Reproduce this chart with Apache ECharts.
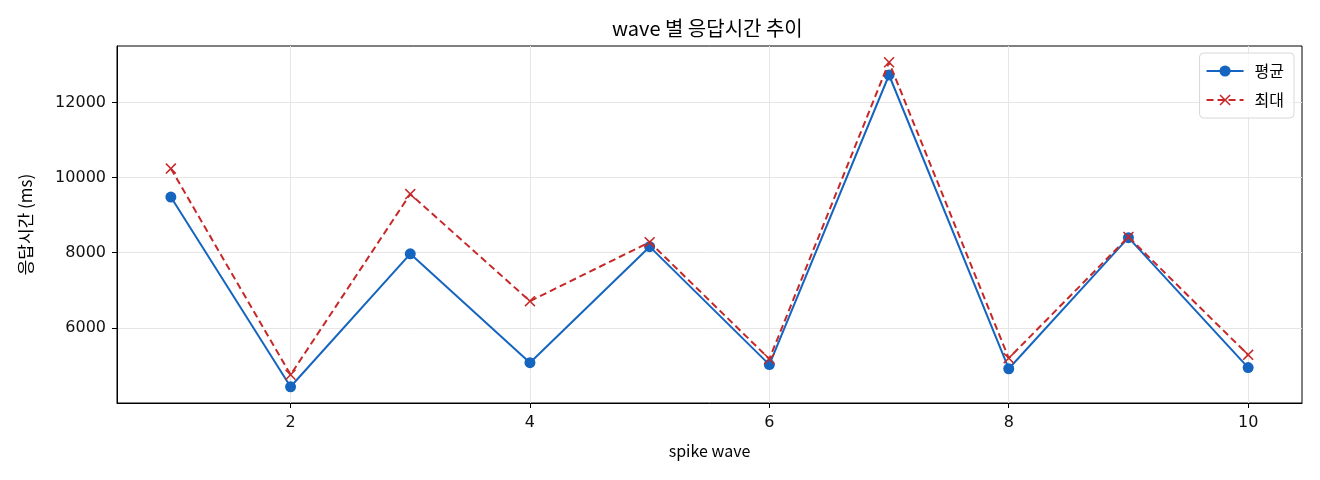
<!DOCTYPE html>
<html>
<head>
<meta charset="utf-8">
<script src="https://cdn.jsdelivr.net/npm/echarts@6/dist/echarts.min.js"></script>
<style>
  html, body { margin: 0; padding: 0; background: #fff; }
  #charts { width: 1320px; height: 480px; }
</style>
</head>
<body>
<div id="charts"></div>
<script>
// data
var waves = [1, 2, 3, 4, 5, 6, 7, 8, 9, 10];
var avgMs = [9480, 4430, 7970, 5070, 8160, 5020, 12730, 4910, 8400, 4940];
var maxMs = [10240, 4750, 9560, 6710, 8280, 5170, 13070, 5190, 8420, 5280];
var xTicks = [2, 4, 6, 8, 10];
var yTicks = [6000, 8000, 10000, 12000];

var KR = '"Noto Sans CJK KR", "Noto Sans", sans-serif';
var BLUE = '#1565c0';
var RED = '#c62828';
// x marker as filled polygon
var xMark = 'path://M0,1L1,0L5,4L9,0L10,1L6,5L10,9L9,10L5,6L1,10L0,9L4,5Z';

function pairs(vals) {
    return waves.map(function (w, i) { return [w, vals[i]]; });
}

var myChart = echarts.init(document.getElementById('charts'), null, { width: 1320, height: 480 });

var option = {
    backgroundColor: '#fff',
    animation: false,
    title: {
        text: 'wave 별 응답시간 추이',
        left: 612,
        top: 18,
        padding: 0,
        textStyle: { fontFamily: KR, fontSize: 20, fontWeight: 'normal', color: '#000' }
    },
    legend: {
        orient: 'vertical',
        right: 26,
        top: 53,
        padding: [10, 10, 10, 6],
        itemWidth: 37,
        itemHeight: 14,
        itemGap: 13,
        borderColor: '#d8d8d8',
        borderWidth: 1,
        borderRadius: 4,
        backgroundColor: 'rgba(255,255,255,0.8)',
        textStyle: { fontFamily: KR, fontSize: 16, color: '#000', padding: [0, 0, 0, 6] },
        data: ['평균', '최대']
    },
    grid: {
        left: 117,
        right: 18,
        top: 46,
        bottom: 77,
        show: true,
        borderColor: '#000',
        borderWidth: 1,
        backgroundColor: 'transparent'
    },
    xAxis: {
        type: 'value',
        min: 0.55,
        max: 10.45,
        name: 'spike wave',
        nameLocation: 'middle',
        nameGap: 40,
        nameTextStyle: { fontFamily: KR, fontSize: 16, color: '#000' },
        axisLine: { show: true, lineStyle: { color: '#000', width: 1 } },
        axisTick: { show: true, length: 5, lineStyle: { color: '#000' }, customValues: xTicks },
        axisLabel: { margin: 12, fontFamily: '"DejaVu Sans", sans-serif', fontSize: 16, color: '#111', customValues: xTicks },
        splitLine: { show: true, lineStyle: { color: '#e6e6e6', width: 1 } }
    },
    yAxis: {
        type: 'value',
        min: function (v) { return v.min - 0.05 * (v.max - v.min); },
        max: function (v) { return v.max + 0.05 * (v.max - v.min); },
        name: '응답시간 (ms)',
        nameLocation: 'middle',
        nameGap: 83,
        nameTextStyle: { fontFamily: KR, fontSize: 17, color: '#000' },
        axisLine: { show: true, lineStyle: { color: '#000', width: 1 } },
        axisTick: { show: true, length: 5, lineStyle: { color: '#000' }, customValues: yTicks },
        axisLabel: {
            margin: 11, fontFamily: '"DejaVu Sans", sans-serif', fontSize: 16, color: '#111',
            customValues: yTicks,
            formatter: function (v) { return String(v); }
        },
        splitLine: { show: true, lineStyle: { color: '#e6e6e6', width: 1 } }
    },
    series: [
        {
            name: '평균',
            type: 'line',
            data: pairs(avgMs),
            symbol: 'circle',
            symbolSize: 11,
            showAllSymbol: true,
            itemStyle: { color: BLUE },
            lineStyle: { color: BLUE, width: 2 },
            z: 3
        },
        {
            name: '최대',
            type: 'line',
            data: pairs(maxMs),
            symbol: xMark,
            symbolSize: 11,
            showAllSymbol: true,
            itemStyle: { color: RED },
            lineStyle: { color: RED, width: 2, type: [7, 4] },
            z: 4
        }
    ]
};

myChart.setOption(option);
</script>
</body>
</html>
